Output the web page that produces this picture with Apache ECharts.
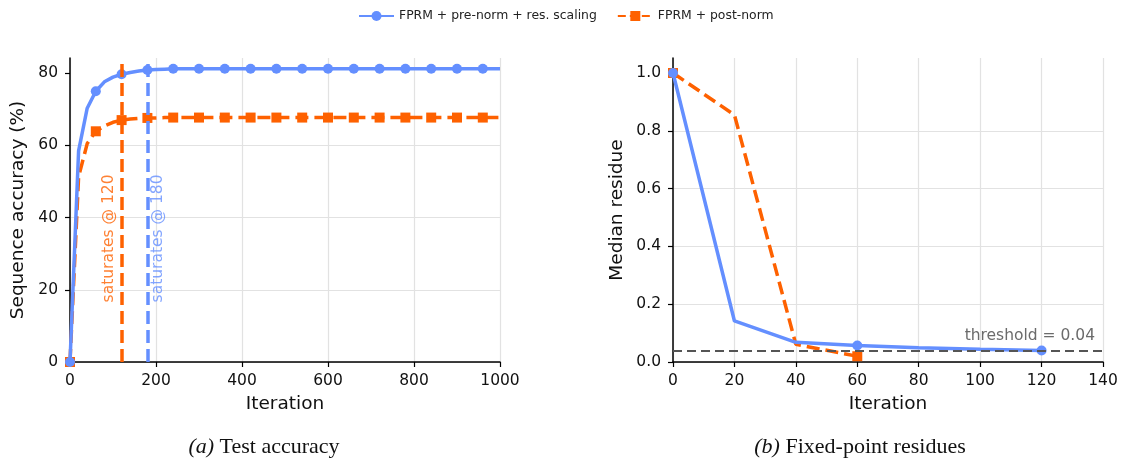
<!DOCTYPE html>
<html><head><meta charset="utf-8">
<script src="https://cdn.jsdelivr.net/npm/echarts@6/dist/echarts.min.js"></script>
<style>html,body{margin:0;padding:0;background:#fff}#c{width:1122px;height:461px}</style>
</head><body><div id="c"></div>
<script>
// ---------- data ----------
const seriesNames = ['FPRM + pre-norm + res. scaling', 'FPRM + post-norm'];

// (a) Test accuracy: iteration vs sequence accuracy (%)
const accIters = [0,20,40,60,80,100,120,140,160,180,200,220,240,260,280,300,320,340,360,380,400,
  420,440,460,480,500,520,540,560,580,600,620,640,660,680,700,720,740,760,780,800,
  820,840,860,880,900,920,940,960,980,1000];
const accPreNorm = [0,58.5,70.3,75.0,77.6,78.9,79.7,80.2,80.6,80.9,81.0,81.1,81.2,81.2,81.2,81.2,81.2,81.2,81.2,81.2,81.2,
  81.2,81.2,81.2,81.2,81.2,81.2,81.2,81.2,81.2,81.2,81.2,81.2,81.2,81.2,81.2,81.2,81.2,81.2,81.2,81.2,
  81.2,81.2,81.2,81.2,81.2,81.2,81.2,81.2,81.2,81.2];
const accPostNorm = [0,51.3,60.5,63.9,65.4,66.4,67.0,67.3,67.5,67.6,67.6,67.7,67.7,67.7,67.7,67.7,67.7,67.7,67.7,67.7,67.7,
  67.7,67.7,67.7,67.7,67.7,67.7,67.7,67.7,67.7,67.7,67.7,67.7,67.7,67.7,67.7,67.7,67.7,67.7,67.7,67.7,
  67.7,67.7,67.7,67.7,67.7,67.7,67.7,67.7,67.7,67.7];
const saturatePost = 120;
const saturatePre = 180;
const accYTicks = [0,20,40,60,80];

// (b) Fixed-point residues: iteration vs median residue
const resItersPre = [0,20,40,60,80,100,120];
const resPreNorm = [1.0,0.142,0.068,0.057,0.049,0.044,0.040];
const resItersPost = [0,20,40,60];
const resPostNorm = [1.0,0.855,0.061,0.020];
const threshold = 0.04;
const resYTicks = [0,0.2,0.4,0.6,0.8,1.0];

// ---------- style ----------
const BLUE = '#648FFF', ORANGE = '#FE6100';
const FONT = 'DejaVu Sans';
const markEvery = 3;
const pairs = (xs, ys) => xs.map((x, i) => [x, ys[i]]);
const symSize = (v, p) => (p.dataIndex % markEvery === 0 ? 10 : 0);

function xAxisCfg(gridIndex, max, interval) {
  return {
    type: 'value', gridIndex, min: 0, max, interval,
    name: 'Iteration', nameLocation: 'middle', nameGap: 33,
    nameTextStyle: { fontFamily: FONT, fontSize: 18.5, color: '#111' },
    axisLine: { show: true, onZero: false, lineStyle: { color: '#000', width: 1.5 } },
    axisTick: { show: true, inside: false, length: 5, lineStyle: { color: '#000', width: 1.2 } },
    axisLabel: { fontFamily: FONT, fontSize: 15.5, color: '#111', margin: 11, formatter: v => String(v) },
    splitLine: { show: true, lineStyle: { color: '#e2e2e2', width: 1.2 } }
  };
}
function yAxisCfg(gridIndex, max, interval, ticks, name, gap, fmt) {
  return {
    type: 'value', gridIndex, min: 0, max, interval,
    name, nameLocation: 'middle', nameGap: gap,
    nameTextStyle: { fontFamily: FONT, fontSize: 18.5, color: '#111' },
    axisLine: { show: true, onZero: false, lineStyle: { color: '#000', width: 1.5 } },
    axisTick: { show: true, inside: false, length: 5, customValues: ticks, lineStyle: { color: '#000', width: 1.2 } },
    axisLabel: { fontFamily: FONT, fontSize: 15.5, color: '#111', margin: 12, customValues: ticks, formatter: fmt },
    splitLine: { show: true, showMaxLine: false, lineStyle: { color: '#e2e2e2', width: 1.2 } }
  };
}

const capRich = { i: { fontStyle: 'italic', fontFamily: 'Liberation Serif', fontSize: 22 } };
const chart = echarts.init(document.getElementById('c'), null, { renderer: 'canvas' });
chart.setOption({
  animation: false,
  backgroundColor: '#fff',
  legend: {
    data: [
      { name: seriesNames[0] },
      { name: seriesNames[1], lineStyle: { type: [8, 4] } }
    ],
    top: 5, left: 353, itemWidth: 35, itemHeight: 12.5, itemGap: 20,
    textStyle: { fontFamily: FONT, fontSize: 12.4, color: '#222' }
  },
  grid: [
    { left: 70, right: 622, top: 58, bottom: 99 },
    { left: 673, right: 19, top: 58, bottom: 99 }
  ],
  xAxis: [ xAxisCfg(0, 1000, 200), xAxisCfg(1, 140, 20) ],
  yAxis: [
    yAxisCfg(0, 84.2, 20, accYTicks, 'Sequence accuracy (%)', 42, v => String(v)),
    yAxisCfg(1, 1.052, 0.2, resYTicks, 'Median residue', 46, v => v.toFixed(1))
  ],
  graphic: [
    { type: 'text', x: 264, y: 447, style: { text: '{i|(a)} Test accuracy', fontFamily: 'Liberation Serif', fontSize: 22, fill: '#111', align: 'center', verticalAlign: 'middle', rich: capRich } },
    { type: 'text', x: 860, y: 447, style: { text: '{i|(b)} Fixed-point residues', fontFamily: 'Liberation Serif', fontSize: 22, fill: '#111', align: 'center', verticalAlign: 'middle', rich: capRich } }
  ],
  series: [
    // vertical saturation lines (behind curves)
    { type: 'line', xAxisIndex: 0, yAxisIndex: 0, data: [], z: 1, silent: true,
      markLine: { silent: true, symbol: ['none','none'], label: { show: false },
        data: [
          { xAxis: saturatePost, lineStyle: { color: ORANGE, width: 3.5, type: [13, 6] } },
          { xAxis: saturatePre, lineStyle: { color: BLUE, width: 3.5, type: [13, 6] } }
        ] } },
    // threshold line
    { type: 'line', xAxisIndex: 1, yAxisIndex: 1, data: [], z: 1, silent: true,
      markLine: { silent: true, symbol: ['none','none'],
        lineStyle: { color: '#555', width: 2, type: [9, 5] },
        label: { show: true, position: 'insideEndTop', formatter: 'threshold = ' + threshold, fontFamily: FONT, fontSize: 15.5, color: '#6b6b6b', distance: [8, 6] },
        data: [ { yAxis: threshold } ] } },
    // (a)
    { name: seriesNames[1], type: 'line', xAxisIndex: 0, yAxisIndex: 0, z: 3,
      data: pairs(accIters, accPostNorm), symbol: 'rect', symbolSize: symSize,
      itemStyle: { color: ORANGE }, lineStyle: { color: ORANGE, width: 3.5, type: [13, 6] } },
    { name: seriesNames[0], type: 'line', xAxisIndex: 0, yAxisIndex: 0, z: 4,
      data: pairs(accIters, accPreNorm), symbol: 'circle', symbolSize: symSize,
      itemStyle: { color: BLUE }, lineStyle: { color: BLUE, width: 3.5 } },
    // (b)
    { name: seriesNames[1], type: 'line', xAxisIndex: 1, yAxisIndex: 1, z: 3,
      data: pairs(resItersPost, resPostNorm), symbol: 'rect', symbolSize: symSize,
      itemStyle: { color: ORANGE }, lineStyle: { color: ORANGE, width: 3.5, type: [13, 6] } },
    { name: seriesNames[0], type: 'line', xAxisIndex: 1, yAxisIndex: 1, z: 4,
      data: pairs(resItersPre, resPreNorm), symbol: 'circle', symbolSize: symSize,
      itemStyle: { color: BLUE }, lineStyle: { color: BLUE, width: 3.5 } },
    // annotations
    { type: 'scatter', xAxisIndex: 0, yAxisIndex: 0, z: 5, silent: true, symbolSize: 0,
      data: [
        { value: [saturatePost, 16.5], label: { formatter: 'saturates @ ' + saturatePost, color: ORANGE, offset: [0, -12.5] } },
        { value: [saturatePre, 16.5], label: { formatter: 'saturates @ ' + saturatePre, color: BLUE, offset: [0, 10.5] } }
      ],
      label: { show: true, position: 'inside', rotate: 90, align: 'left', verticalAlign: 'middle', fontFamily: FONT, fontSize: 15.5 } }
  ]
});
</script></body></html>
